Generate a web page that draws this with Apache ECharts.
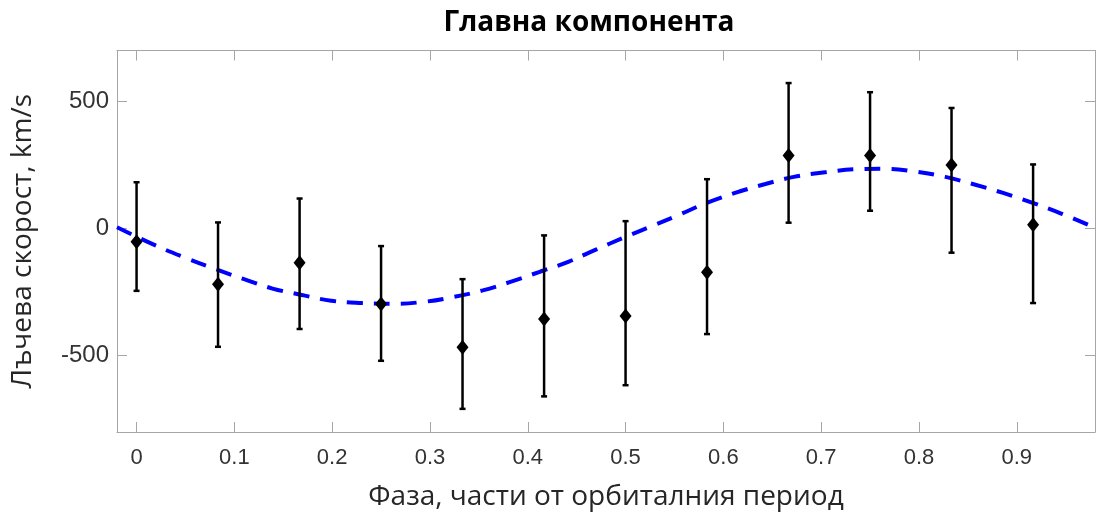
<!DOCTYPE html>
<html>
<head>
<meta charset="utf-8">
<script src="https://cdn.jsdelivr.net/npm/echarts@6/dist/echarts.min.js"></script>
<style>html,body{margin:0;padding:0;background:#fff}#c{width:1096px;height:515px}</style>
</head>
<body>
<div id="c"></div>
<script>
// ---- data ----
const titleText = 'Главна компонента';
const xName = 'Фаза, части от орбиталния период';
const yName = 'Лъчева скорост, km/s';

const xTickValues = [0, 0.1, 0.2, 0.3, 0.4, 0.5, 0.6, 0.7, 0.8, 0.9];
const xTickLabels = ['0', '0.1', '0.2', '0.3', '0.4', '0.5', '0.6', '0.7', '0.8', '0.9'];
const yTickValues = [-500, 0, 500];
const yTickLabels = ['-500', '0', '500'];

const pointPhase = [0, 0.0833, 0.1667, 0.25, 0.3333, 0.4167, 0.5, 0.5833, 0.6667, 0.75, 0.8333, 0.9167];
const pointValue = [-52, -219, -135, -297, -467, -356, -344, -172, 287, 287, 250, 15];
const pointLow   = [-245, -465, -395, -520, -709, -660, -616, -415, 23, 70, -95, -293];
const pointHigh  = [182, 24, 118, -69, -199, -27, 29, 194, 572, 536, 474, 252];

const curvePhase = [-0.02, 0.022, 0.052, 0.081, 0.11, 0.139, 0.17, 0.199, 0.23, 0.262, 0.292, 0.323, 0.354, 0.383, 0.413, 0.442, 0.469, 0.498, 0.527, 0.554, 0.583, 0.612, 0.643, 0.672, 0.704, 0.735, 0.765, 0.796, 0.827, 0.855, 0.886, 0.917, 0.946, 0.98];
const curveValue = [5, -71, -118, -160, -199, -236, -262, -284, -293, -296, -289, -270, -243, -209, -169, -130, -84, -36, 10, 53, 101, 140, 175, 203, 221, 233, 235, 224, 203, 175, 140, 100, 58, 3];

// ---- chart ----
const chart = echarts.init(document.getElementById('c'), null, {renderer: 'canvas'});
const frameColor = '#a6a6a6';
const textColor = '#333333';
const xMin = -0.02, xMax = 0.98, yMin = -800, yMax = 700;

function xAxisCfg(pos, labels) {
  return {
    type: 'value', position: pos, min: xMin, max: xMax,
    axisLine: {show: true, onZero: false, lineStyle: {color: frameColor, width: 1}},
    axisTick: {show: true, inside: true, length: 10, customValues: xTickValues, lineStyle: {color: frameColor}},
    axisLabel: labels ? {
      show: true, customValues: xTickValues, margin: 15,
      formatter: v => xTickLabels[xTickValues.findIndex(t => Math.abs(t - v) < 1e-9)] ?? '',
      color: textColor, fontFamily: 'Liberation Sans', fontSize: 22
    } : {show: false},
    splitLine: {show: false}
  };
}
function yAxisCfg(pos, labels) {
  return {
    type: 'value', position: pos, min: yMin, max: yMax,
    axisLine: {show: true, onZero: false, lineStyle: {color: frameColor, width: 1}},
    axisTick: {show: true, inside: true, length: 10, customValues: yTickValues, lineStyle: {color: frameColor}},
    axisLabel: labels ? {
      show: true, customValues: yTickValues, margin: 8,
      formatter: v => yTickLabels[yTickValues.indexOf(v)] ?? '',
      color: textColor, fontFamily: 'Liberation Sans', fontSize: 24
    } : {show: false},
    splitLine: {show: false}
  };
}

const xb = xAxisCfg('bottom', true);
xb.name = xName; xb.nameLocation = 'middle'; xb.nameGap = 51;
xb.nameTextStyle = {color: '#262626', fontFamily: 'Open Sans', fontSize: 28};
const yl = yAxisCfg('left', true);
yl.name = yName; yl.nameLocation = 'middle'; yl.nameGap = 80;
yl.nameTextStyle = {color: '#262626', fontFamily: 'Open Sans', fontSize: 28};

const errData = pointPhase.map((p, i) => [p, pointLow[i], pointHigh[i]]);

chart.setOption({
  animation: false,
  backgroundColor: '#fff',
  grid: {left: 117, right: 1, top: 50.5, bottom: 83, containLabel: false, outerBoundsMode: 'none'},
  graphic: [{
    type: 'text',
    style: {text: titleText, x: 589, y: 23, align: 'center', verticalAlign: 'middle', font: 'bold 28px "Open Sans"', fill: '#000'}
  }],
  xAxis: [xb, xAxisCfg('top', false)],
  yAxis: [yl, yAxisCfg('right', false)],
  series: [
    {
      type: 'line', xAxisIndex: 0, yAxisIndex: 0,
      data: curvePhase.map((p, i) => [p, curveValue[i]]),
      smooth: 0.4, symbol: 'none', z: 2,
      lineStyle: {color: '#0000ff', width: 4, type: [16, 11]}
    },
    {
      type: 'custom', xAxisIndex: 0, yAxisIndex: 0, z: 3,
      data: errData,
      renderItem: function (params, api) {
        const x = api.value(0);
        const lo = api.coord([x, api.value(1)]);
        const hi = api.coord([x, api.value(2)]);
        const cap = 3;
        const st = {stroke: '#000', lineWidth: 2.5};
        return {type: 'group', children: [
          {type: 'line', shape: {x1: lo[0], y1: lo[1], x2: hi[0], y2: hi[1]}, style: st},
          {type: 'line', shape: {x1: lo[0] - cap, y1: lo[1], x2: lo[0] + cap, y2: lo[1]}, style: st},
          {type: 'line', shape: {x1: hi[0] - cap, y1: hi[1], x2: hi[0] + cap, y2: hi[1]}, style: st}
        ]};
      }
    },
    {
      type: 'scatter', xAxisIndex: 0, yAxisIndex: 0, z: 4,
      data: pointPhase.map((p, i) => [p, pointValue[i]]),
      symbol: 'diamond', symbolSize: [12, 15],
      itemStyle: {color: '#000', opacity: 1}
    }
  ]
});
</script>
</body>
</html>
